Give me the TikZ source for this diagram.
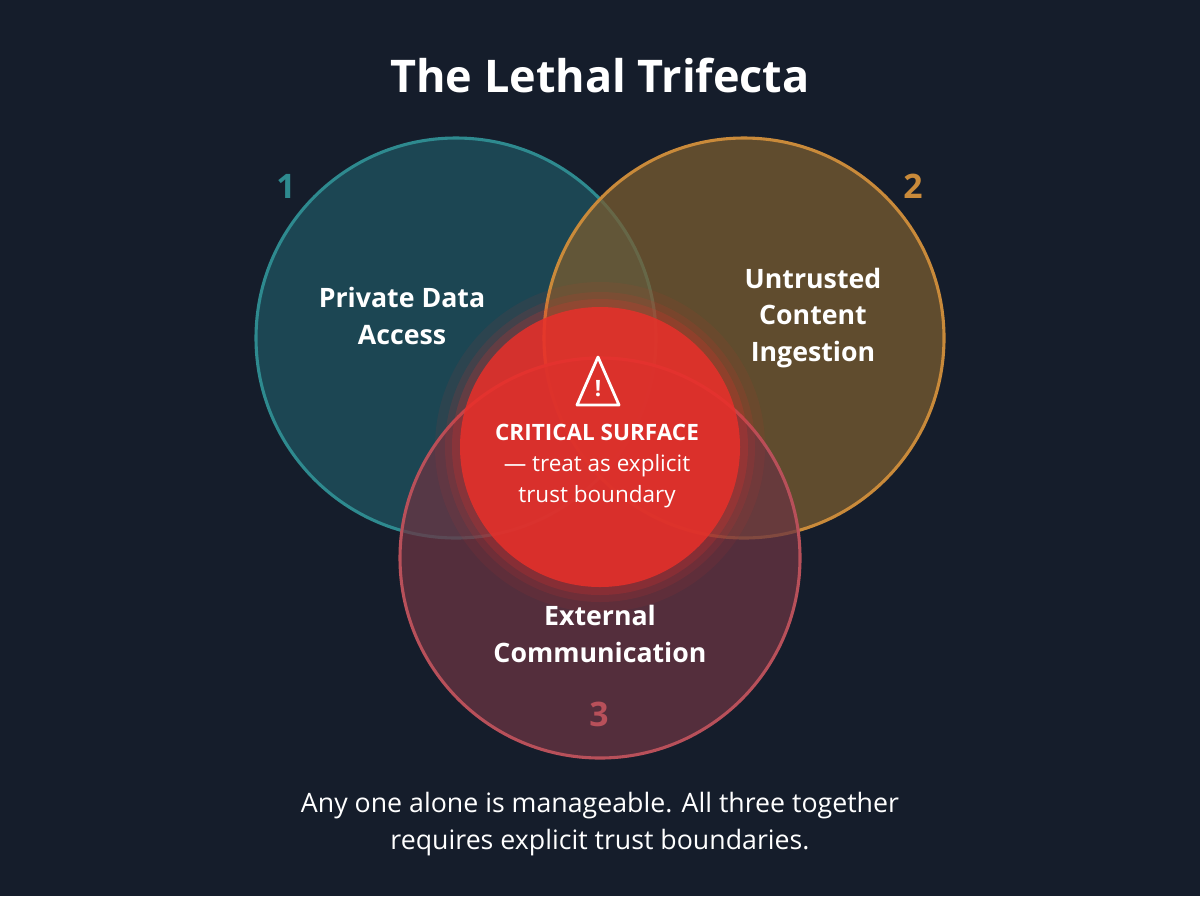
\documentclass[tikz,border=0pt]{standalone}
\usepackage{fontspec}
\setmainfont{Open Sans}
\usetikzlibrary{positioning}
\definecolor{bgnavy}{HTML}{151D2B}
\definecolor{tealline}{HTML}{2E8A8F}
\definecolor{tealfill}{HTML}{1F5561}
\definecolor{amberline}{HTML}{C98A3A}
\definecolor{amberfill}{HTML}{7A5C30}
\definecolor{roseline}{HTML}{B8505A}
\definecolor{rosefill}{HTML}{6A3442}
\definecolor{alertred}{HTML}{E8302A}
\begin{document}
\begin{tikzpicture}[x=0.025cm, y=-0.025cm,
  setcircle/.style={line width=2.2pt, fill opacity=0.75},
  setlabel/.style={font=\fontsize{19}{26}\selectfont\bfseries, text=white, align=center},
  setnum/.style={font=\fontsize{24}{28}\selectfont\bfseries}]
  \fill[bgnavy] (0,0) rectangle (1200,896);
  \node[font=\fontsize{32}{38}\selectfont\bfseries, text=white] (title) at (600,75) {The Lethal Trifecta};

  % the three sets
  \draw[setcircle, draw=tealline, fill=tealfill] (456,338) circle (200);
  \draw[setcircle, draw=amberline, fill=amberfill] (744,338) circle (200);
  \draw[setcircle, draw=roseline, fill=rosefill] (600,558) circle (200);

  % glowing core
  \foreach \r/\o in {165/0.08, 155/0.12, 148/0.2} {
    \fill[alertred, opacity=\o] (600,447) circle (\r);
  }
  \fill[alertred, opacity=0.85] (600,447) circle (140);

  % warning sign
  \draw[white, line width=2pt, line join=round] (598,357) -- (619,405) -- (577,405) -- cycle;
  \node[font=\fontsize{16}{16}\selectfont\bfseries, text=white] (warn) at (598,389) {!};

  \node[setnum, text=tealline] (n1) at (286,186) {1};
  \node[setnum, text=amberline] (n2) at (913,186) {2};
  \node[setnum, text=roseline] (n3) at (599,714) {3};

  \node[setlabel] (priv) at (402,316) {Private Data\\Access};
  \node[setlabel] (untr) at (813,318) {Untrusted\\Content\\Ingestion};
  \node[setlabel] (ext) at (600,634) {External\\Communication};

  \node[text=white, align=center, font=\fontsize{16}{22}\selectfont] (core) at (597,466)
    {\textbf{CRITICAL SURFACE}\\— treat as explicit\\trust boundary};

  \node[text=white, align=center, font=\fontsize{19}{26.5}\selectfont] (note) at (600,824)
    {Any one alone is manageable. All three together\\requires explicit trust boundaries.};
\end{tikzpicture}
\end{document}
